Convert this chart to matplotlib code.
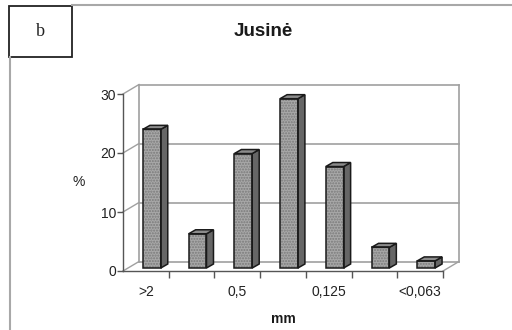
import matplotlib.pyplot as plt
from matplotlib.patches import Polygon, Rectangle
from matplotlib.lines import Line2D

# data
categories = [">2", "", "0,5", "", "0,125", "", "<0,063"]
values = [23.5, 5.8, 19.4, 28.7, 17.2, 3.5, 1.2]
yticks = [0, 10, 20, 30]

W, H = 512, 330
fig = plt.figure(figsize=(W / 100, H / 100), dpi=100)
plt.rcParams['font.family'] = ['Liberation Sans', 'DejaVu Sans']

def fx(px):
    return px / W

def fy(py):
    return 1 - py / H

# front plane of the pseudo 3d chart
left, right, bottom, top = 123, 443, 271, 94
ax = fig.add_axes([fx(left), fy(bottom), (right - left) / W, (bottom - top) / H])
n = len(values)
ax.set_xlim(-0.5, n - 0.5)
ax.set_ylim(0, 30)
ax.patch.set_alpha(0)

# pixel -> data units
ux = n / (right - left)
uy = 30 / (bottom - top)
DX, DY = 16 * ux, 9.5 * uy

grid_c = '#a0a0a0'
x0, x1 = -0.5, n - 0.5

# back wall and floor lines
for v in yticks:
    ax.plot([x0 + DX, x1 + DX], [v + DY, v + DY], color=grid_c, lw=1.2, clip_on=False, zorder=1)
    ax.plot([x0, x0 + DX], [v, v + DY], color=grid_c, lw=1.0, clip_on=False, zorder=1)
ax.plot([x0 + DX, x0 + DX], [DY, 30 + DY], color=grid_c, lw=1.2, clip_on=False, zorder=1)
ax.plot([x1 + DX, x1 + DX], [DY, 30 + DY], color=grid_c, lw=1.2, clip_on=False, zorder=1)
ax.plot([x1, x1 + DX], [0, DY], color=grid_c, lw=1.0, clip_on=False, zorder=1)

# bars
bw = 0.39
ox, oy = 6 * ux, 3 * uy
sx, sy = 7 * ux, 4 * uy
xs = list(range(n))
ax.bar([x + ox for x in xs], values, width=bw, bottom=oy, color='#a8a8a8',
       edgecolor='#7a7a7a', hatch='......', linewidth=0, zorder=3, clip_on=False)
ax.bar([x + ox for x in xs], values, width=bw, bottom=oy, fill=False,
       edgecolor='#1a1a1a', linewidth=1.1, zorder=4, clip_on=False)
for x, v in zip(xs, values):
    xl = x + ox - bw / 2
    xr = x + ox + bw / 2
    side = Polygon([(xr, oy), (xr + sx, oy + sy), (xr + sx, oy + v + sy), (xr, oy + v)],
                   closed=True, facecolor='#666666', edgecolor='#1a1a1a', lw=1.1,
                   zorder=3, clip_on=False)
    topf = Polygon([(xl, oy + v), (xl + sx, oy + v + sy), (xr + sx, oy + v + sy), (xr, oy + v)],
                   closed=True, facecolor='#8c8c8c', edgecolor='#1a1a1a', lw=1.1,
                   zorder=3, clip_on=False)
    ax.add_patch(side)
    ax.add_patch(topf)

# front axes
for s in ['top', 'right']:
    ax.spines[s].set_visible(False)
for s in ['left', 'bottom']:
    ax.spines[s].set_color('#555555')
    ax.spines[s].set_linewidth(1.0)
ax.set_yticks(yticks)
ax.set_yticklabels([str(t) for t in yticks])
ax.tick_params(axis='y', length=4, width=1, color='#555555', pad=1,
               labelsize=10, labelcolor='#222222')
ax.set_xticks(xs)
ax.set_xticklabels(categories)
ax.set_xticks([x + 0.5 for x in xs], minor=True)
ax.tick_params(axis='x', which='major', length=0, pad=10, labelsize=10, labelcolor='#222222')
ax.tick_params(axis='x', which='minor', length=5, width=1, color='#555555')

# texts
fig.text(fx(263), fy(31), 'Jusinė', ha='center', va='center', fontsize=13.5, fontweight='bold',
         color='#1a1a1a')
fig.text(fx(79), fy(182), '%', ha='center', va='center', fontsize=10, color='#222222')
fig.text(fx(283), fy(319), 'mm', ha='center', va='center', fontsize=10, fontweight='bold',
         color='#1a1a1a')

# frame lines and panel letter box
fig.add_artist(Line2D([fx(10), fx(10)], [fy(57), fy(330)], color='#a8a8a8', lw=1.5))
fig.add_artist(Line2D([fx(72), fx(512)], [fy(4.5), fy(4.5)], color='#a8a8a8', lw=1.5))
fig.add_artist(Rectangle((fx(9), fy(57)), fx(63), (57 - 6) / H, fill=False,
                         edgecolor='#222222', lw=1.3))
fig.text(fx(40), fy(32), 'b', ha='center', va='center', fontsize=13,
         family=['Liberation Serif', 'DejaVu Serif'], color='#222222')

fig.savefig('out.png', dpi=100)
